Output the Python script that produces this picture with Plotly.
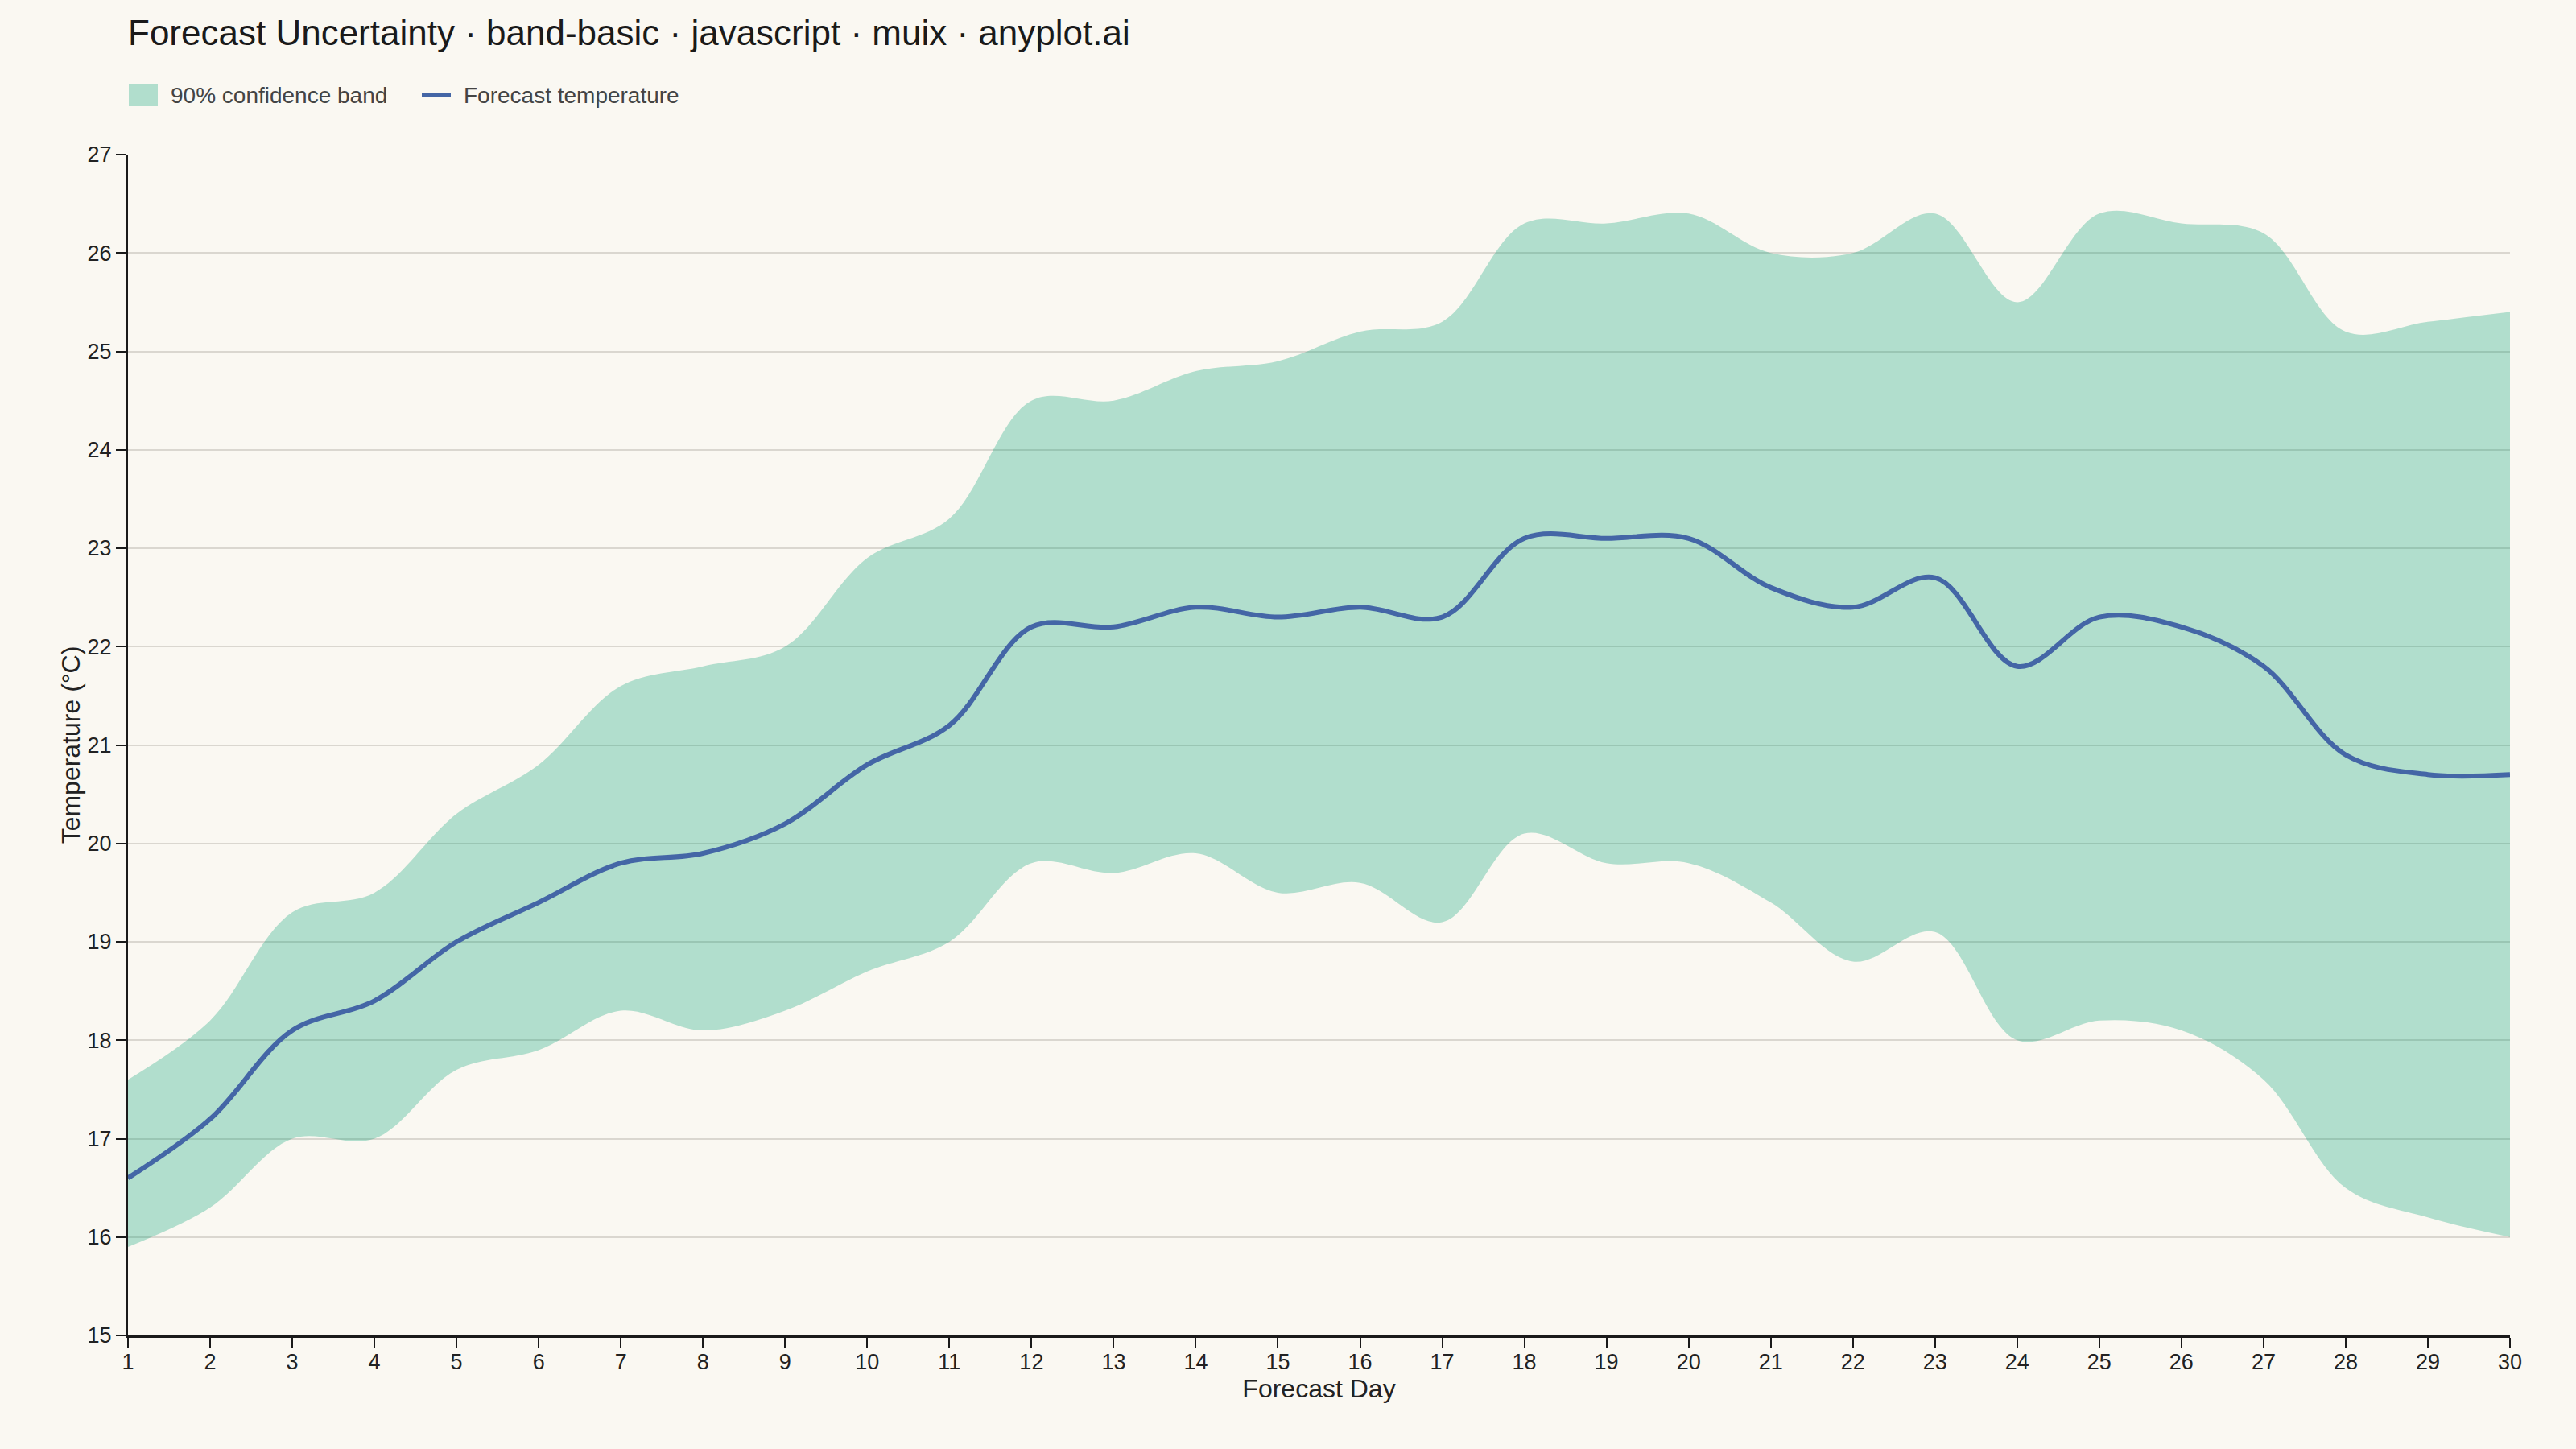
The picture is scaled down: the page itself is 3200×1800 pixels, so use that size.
import plotly.graph_objects as go

days = list(range(1, 31))
forecast = [16.6, 17.2, 18.1, 18.4, 19.0, 19.4, 19.8, 19.9, 20.2, 20.8,
            21.2, 22.2, 22.2, 22.4, 22.3, 22.4, 22.3, 23.1, 23.1, 23.1,
            22.6, 22.4, 22.7, 21.8, 22.3, 22.2, 21.8, 20.9, 20.7, 20.7]
upper = [17.6, 18.2, 19.3, 19.5, 20.3, 20.8, 21.6, 21.8, 22.0, 22.9,
         23.3, 24.5, 24.5, 24.8, 24.9, 25.2, 25.3, 26.3, 26.3, 26.4,
         26.0, 26.0, 26.4, 25.5, 26.4, 26.3, 26.2, 25.2, 25.3, 25.4]
lower = [15.9, 16.3, 17.0, 17.0, 17.7, 17.9, 18.3, 18.1, 18.3, 18.7,
         19.0, 19.8, 19.7, 19.9, 19.5, 19.6, 19.2, 20.1, 19.8, 19.8,
         19.4, 18.8, 19.1, 18.0, 18.2, 18.1, 17.6, 16.5, 16.2, 16.0]

y_ticks = list(range(15, 28))
legend_names = ["90% confidence band", "Forecast temperature"]

W, H = 3200, 1800
ML, MR, MT, MB = 159, 82, 192, 141
PW, PH = W - ML - MR, H - MT - MB

bg = "#faf8f2"
band_color = "rgba(0,158,115,0.29)"
line_color = "#4466a6"
font_family = "Liberation Sans, Arial, sans-serif"


def px(x):
    return (x - ML) / PW


def py(y):
    return (H - MB - y) / PH


fig = go.Figure()

# lower edge first, then upper fills down to it
fig.add_trace(go.Scatter(
    x=days, y=lower, mode="lines",
    line=dict(width=0, shape="spline"),
    showlegend=False, hoverinfo="skip",
))
fig.add_trace(go.Scatter(
    x=days, y=upper, mode="lines",
    line=dict(width=0, shape="spline"),
    fill="tonexty", fillcolor=band_color,
    name=legend_names[0], showlegend=False,
))
fig.add_trace(go.Scatter(
    x=days, y=forecast, mode="lines",
    line=dict(color=line_color, width=6, shape="spline"),
    name=legend_names[1], showlegend=False,
))

# hand-made legend so the swatch matches the original box size
fig.add_shape(type="rect", xref="paper", yref="paper",
              x0=px(160), x1=px(196), y0=py(132), y1=py(104),
              fillcolor=band_color, line=dict(width=0))
fig.add_shape(type="line", xref="paper", yref="paper",
              x0=px(524), x1=px(560), y0=py(118), y1=py(118),
              line=dict(color=line_color, width=6))
for name, x0 in zip(legend_names, [210, 574]):
    fig.add_annotation(text=name, xref="paper", yref="paper",
                       x=px(x0), y=py(118), xanchor="left", yanchor="middle",
                       showarrow=False, font=dict(size=28, color="#444444"))

fig.update_layout(
    width=W,
    height=H,
    paper_bgcolor=bg,
    plot_bgcolor=bg,
    margin=dict(l=ML, r=MR, t=MT, b=MB),
    font=dict(family=font_family, size=27, color="#222222"),
    title=dict(
        text="Forecast Uncertainty · band-basic · javascript · muix · anyplot.ai",
        x=ML / W, xanchor="left",
        y=1 - 41 / H, yanchor="middle",
        font=dict(size=44, color="#1a1a1a"),
    ),
    showlegend=False,
    hovermode=False,
)

fig.update_xaxes(
    range=[1, 30],
    tickvals=days,
    showgrid=False,
    zeroline=False,
    showline=True, linecolor="#1a1a1a", linewidth=3,
    ticks="outside", ticklen=12, tickwidth=2, tickcolor="#1a1a1a",
    tickfont=dict(size=27, color="#222222"),
    ticklabelstandoff=-5,
    title=dict(text="Forecast Day", font=dict(size=32, color="#222222"), standoff=4),
)
fig.update_yaxes(
    range=[15, 27],
    tickvals=y_ticks,
    showgrid=True, gridcolor="#dad7d0", gridwidth=2,
    zeroline=False,
    showline=True, linecolor="#1a1a1a", linewidth=3,
    ticks="outside", ticklen=12, tickwidth=2, tickcolor="#1a1a1a",
    tickfont=dict(size=27, color="#222222"),
    title=dict(text="Temperature (°C)", font=dict(size=32, color="#222222"), standoff=0),
)

fig.write_html("out.html", config={"displayModeBar": False},
               post_script="document.body.style.margin='0';")
